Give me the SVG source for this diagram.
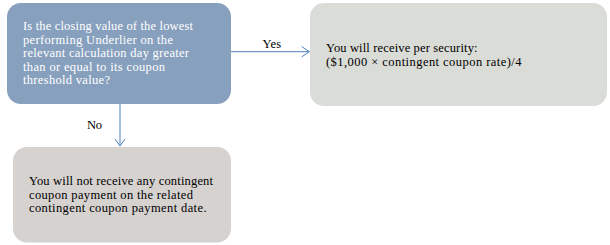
<svg xmlns="http://www.w3.org/2000/svg" width="610" height="245" viewBox="0 0 610 245">
<style>
  .t { font-family: "Liberation Serif", "DejaVu Serif", serif; font-size: 12.5px; }
  .w { fill: #ffffff; }
  .k { fill: #000000; }
  .conn { stroke: #4F81BD; stroke-width: 1; fill: none; }
</style>
<rect width="610" height="245" fill="#ffffff"/>
<g id="question">
  <rect x="7" y="3" width="224" height="101" rx="14" ry="14" fill="#87A0BE"/>
  <text class="t w" x="23" y="30" textLength="170">Is the closing value of the lowest</text>
  <text class="t w" x="23" y="43.5" textLength="150">performing Underlier on the</text>
  <text class="t w" x="23" y="57" textLength="166">relevant calculation day greater</text>
  <text class="t w" x="23" y="70.5" textLength="142">than or equal to its coupon</text>
  <text class="t w" x="23" y="84" textLength="87">threshold value?</text>
</g>
<g id="yes-result">
  <rect x="310" y="3" width="297" height="103" rx="14" ry="14" fill="#DADCD7"/>
  <text class="t k" x="326" y="52" textLength="151.5">You will receive per security:</text>
  <text class="t k" x="326" y="65.5" textLength="195.5">($1,000 × contingent coupon rate)/4</text>
</g>
<g id="no-result">
  <rect x="13" y="147" width="218" height="95.5" rx="14" ry="14" fill="#D6D2CF"/>
  <text class="t k" x="29" y="185" textLength="184">You will not receive any contingent</text>
  <text class="t k" x="29" y="198.5" textLength="164">coupon payment on the related</text>
  <text class="t k" x="29" y="212" textLength="177.5">contingent coupon payment date.</text>
</g>
<g id="connectors">
  <path class="conn" d="M231 51.7 H309.3"/>
  <path class="conn" d="M301.7 46.5 L309.3 51.7 L301.7 56.9"/>
  <text class="t k" x="262.5" y="48.3" textLength="18.5">Yes</text>
  <path class="conn" d="M120 104 V146"/>
  <path class="conn" d="M115 139 L120 146 L125 139"/>
  <text class="t k" x="87" y="129" textLength="15">No</text>
</g>
</svg>
